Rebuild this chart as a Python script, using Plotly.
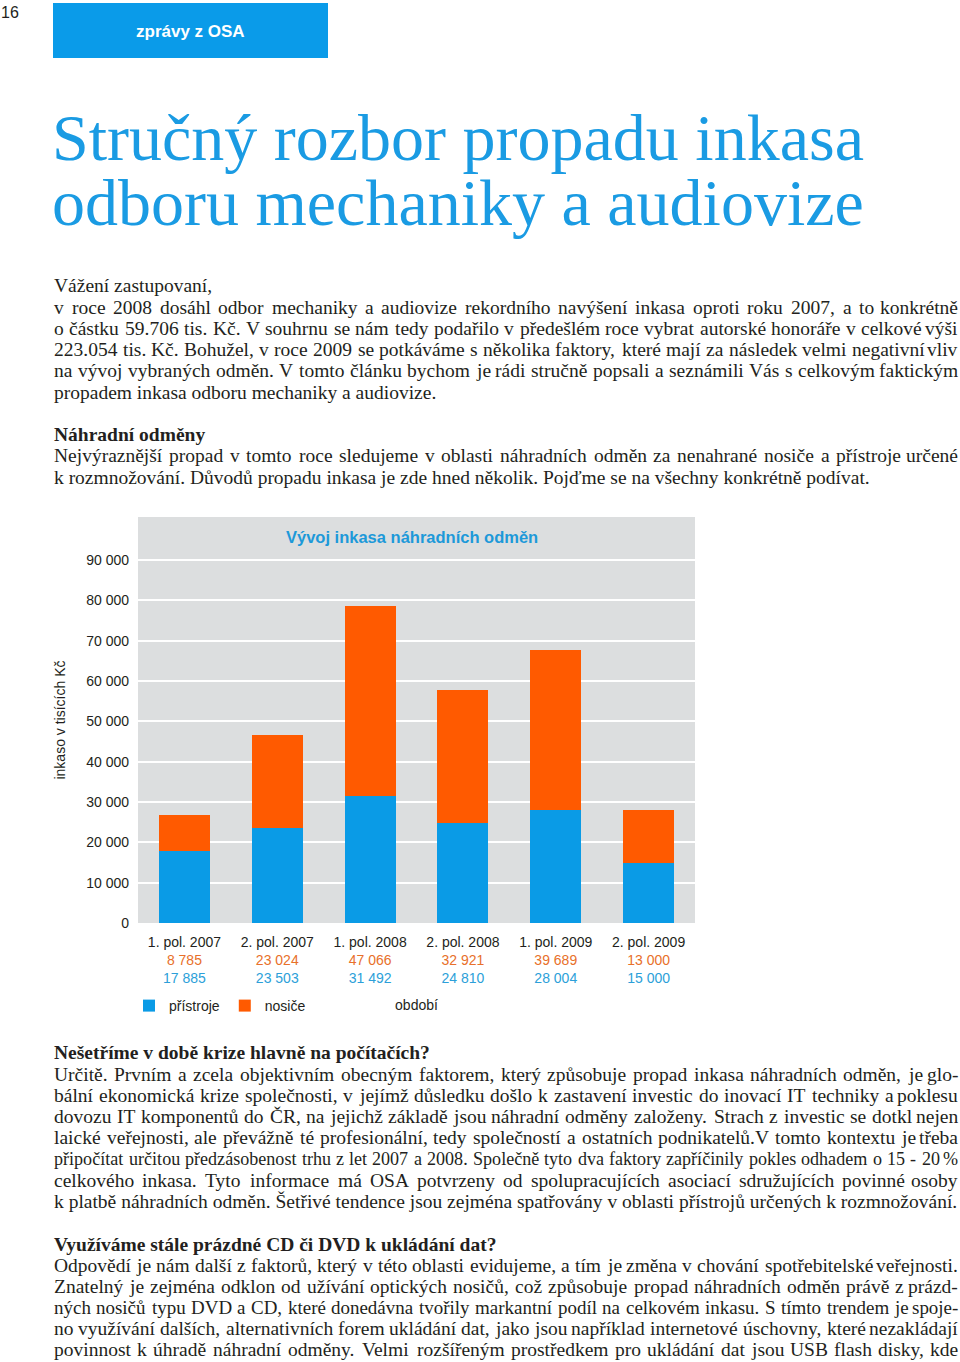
import unicodedata
import plotly.graph_objects as go

W, H = 960, 1362

# ---------------- data ----------------
categories = ["1. pol. 2007", "2. pol. 2007", "1. pol. 2008",
              "2. pol. 2008", "1. pol. 2009", "2. pol. 2009"]
pristroje = [17885, 23503, 31492, 24810, 28004, 15000]
nosice = [8785, 23024, 47066, 32921, 39689, 13000]
y_tick_values = [0, 10000, 20000, 30000, 40000, 50000, 60000, 70000, 80000, 90000]

chart_title = "Vývoj inkasa náhradních odměn"
y_title = "inkaso v tisících Kč"
x_title = "období"
series_names = ["přístroje", "nosiče"]

header_label = "zprávy z OSA"
page_number = "16"
headline = ["Stručný rozbor propadu inkasa", "odboru mechaniky a audiovize"]

intro_lines = [
    "Vážení zastupovaní,",
    "v roce 2008 dosáhl odbor mechaniky a audiovize rekordního navýšení inkasa oproti roku 2007, a to konkrétně",
    "o částku 59.706 tis. Kč. V souhrnu se nám tedy podařilo v předešlém roce vybrat autorské honoráře v celkové výši",
    "223.054 tis. Kč. Bohužel, v roce 2009 se potkáváme s několika faktory, které mají za následek velmi negativní vliv",
    "na vývoj vybraných odměn. V tomto článku bychom je rádi stručně popsali a seznámili Vás s celkovým faktickým",
    "propadem inkasa odboru mechaniky a audiovize.",
]
intro_justified = [False, True, True, True, True, False]
sec1_head = "Náhradní odměny"
sec1_lines = [
    "Nejvýraznější propad v tomto roce sledujeme v oblasti náhradních odměn za nenahrané nosiče a přístroje určené",
    "k rozmnožování. Důvodů propadu inkasa je zde hned několik. Pojďme se na všechny konkrétně podívat.",
]
sec1_justified = [True, False]
sec2_head = "Nešetříme v době krize hlavně na počítačích?"
sec2_lines = [
    "Určitě. Prvním a zcela objektivním obecným faktorem, který způsobuje propad inkasa náhradních odměn, je glo-",
    "bální ekonomická krize společnosti, v jejímž důsledku došlo k zastavení investic do inovací IT techniky a poklesu",
    "dovozu IT komponentů do ČR, na jejichž základě jsou náhradní odměny založeny. Strach z investic se dotkl nejen",
    "laické veřejnosti, ale převážně té profesionální, tedy společností a ostatních podnikatelů.V tomto kontextu je třeba",
    "připočítat určitou předzásobenost trhu z let 2007 a 2008. Společně tyto dva faktory zapříčinily pokles odhadem o 15 - 20 %",
    "celkového inkasa. Tyto informace má OSA potvrzeny od spolupracujících asociací sdružujících povinné osoby",
    "k platbě náhradních odměn. Šetřivé tendence jsou zejména spatřovány v oblasti přístrojů určených k rozmnožování.",
]
sec2_justified = [True, True, True, True, True, True, False]
sec3_head = "Využíváme stále prázdné CD či DVD k ukládání dat?"
sec3_lines = [
    "Odpovědí je nám další z faktorů, který v této oblasti evidujeme, a tím je změna v chování spotřebitelské veřejnosti.",
    "Znatelný je zejména odklon od užívání optických nosičů, což způsobuje propad náhradních odměn právě z prázd-",
    "ných nosičů typu DVD a CD, které donedávna tvořily markantní podíl na celkovém inkasu. S tímto trendem je spoje-",
    "no využívání dalších, alternativních forem ukládání dat, jako jsou například internetové úschovny, které nezakládají",
    "povinnost k úhradě náhradní odměny. Velmi rozšířeným prostředkem pro ukládání dat jsou USB flash disky, kde",
]
sec3_justified = [True, True, True, True, True]

# ---------------- helpers ----------------
BLUE = "#0a9be6"
ORANGE = "#ff5a00"
SERIF = "Liberation Serif"
SANS = "Liberation Sans"
TEXT_DY = 0


def px(x):
    return x / W


def py(y):
    return 1 - y / H


def fmt(v):
    return f"{v:,}".replace(",", " ")


# approximate advance widths (1/1000 em) of Liberation Serif, used to justify lines
_TW = dict(zip("abcdefghijklmnopqrstuvwxyz",
               [444, 500, 444, 500, 444, 333, 500, 500, 278, 278, 500, 278, 778,
                500, 500, 500, 500, 333, 389, 278, 500, 500, 722, 500, 500, 444]))
_TW.update(dict(zip("ABCDEFGHIJKLMNOPQRSTUVWXYZ",
                    [722, 667, 667, 722, 611, 556, 722, 722, 333, 389, 722, 611, 889,
                     722, 722, 556, 722, 667, 556, 611, 722, 722, 944, 722, 722, 611])))
_TW.update({d: 500 for d in "0123456789"})
_TW.update({".": 250, ",": 250, "-": 333, "%": 833, "?": 444, ":": 278, ";": 278,
            "ď": 588, "ť": 326, " ": 250})


def cw(ch):
    if ch in _TW:
        return _TW[ch]
    base = unicodedata.normalize("NFD", ch)[0]
    return _TW.get(base, 500)


def units(word):
    return sum(cw(c) for c in word)


tick_text = [
    f"{c}<br><span style='color:#e8702a'>{fmt(n)}</span><br><span style='color:#2c9fd9'>{fmt(p)}</span>"
    for c, n, p in zip(categories, nosice, pristroje)
]

fig = go.Figure()
fig.add_trace(go.Bar(x=categories, y=pristroje, name=series_names[0],
                     marker=dict(color=BLUE, line=dict(width=0))))
fig.add_trace(go.Bar(x=categories, y=nosice, name=series_names[1],
                     marker=dict(color=ORANGE, line=dict(width=0))))

annotations = []


def text(x, y, s, size, font=SERIF, color="#231f20", bold=False, xanchor="left"):
    yc = y + TEXT_DY
    # keep every text box inside the page
    yc = min(yc, H - 0.58 * size)
    annotations.append(dict(
        x=px(x), y=py(yc), xref="paper", yref="paper", text=s, showarrow=False,
        xanchor=xanchor, yanchor="middle", borderpad=0,
        font=dict(family=font, size=size, color=color, weight="bold" if bold else "normal"),
    ))


L_EDGE, R_EDGE = 53, 959


def body_line(y, s, size, justify):
    if not justify:
        text(L_EDGE, y, s, size)
        return
    words = s.split(" ")
    n = len(words)
    total_units = sum(units(w) for w in words) + 250 * (n - 1)
    avail = R_EDGE - L_EDGE
    if total_units * size / 1000 > avail:
        size = avail / total_units * 1000 * 0.985
    nat = sum(units(w) for w in words) * size / 1000
    gap = (avail - nat) / (n - 1)
    x = L_EDGE
    for i, w in enumerate(words):
        if i == n - 1:
            text(R_EDGE, y, w, size, xanchor="right")
        else:
            text(x, y, w, size)
        x += units(w) * size / 1000 + gap


# page furniture
text(0, 13, page_number, 16, font=SANS, color="#231f20")
text(190, 32, header_label, 17, font=SANS, color="white", bold=True, xanchor="center")
text(51, 137, headline[0], 66, color="#1a9be3")
text(51, 203, headline[1], 66, color="#1a9be3")

LS = 21.2
BODY = 19.5
for i, (l, j) in enumerate(zip(intro_lines, intro_justified)):
    body_line(286 + i * LS, l, BODY, j)
text(L_EDGE, 435, sec1_head, BODY, bold=True)
for i, (l, j) in enumerate(zip(sec1_lines, sec1_justified)):
    body_line(456 + i * LS, l, BODY, j)
text(L_EDGE, 1052, sec2_head, BODY, bold=True)
for i, (l, j) in enumerate(zip(sec2_lines, sec2_justified)):
    body_line(1074 + i * LS, l, BODY, j)
text(L_EDGE, 1244, sec3_head, BODY, bold=True)
for i, (l, j) in enumerate(zip(sec3_lines, sec3_justified)):
    body_line(1265 + i * LS, l, BODY, j)

# chart title
text(412, 537, chart_title, 16.5, font=SANS, color="#1d99d9", bold=True, xanchor="center")

fig.update_layout(
    width=W, height=H,
    margin=dict(l=0, r=0, t=0, b=0, autoexpand=False),
    paper_bgcolor="white",
    plot_bgcolor="#dcdedf",
    barmode="stack",
    bargap=0.45,
    separators=", ",
    font=dict(family=SANS, size=14, color="#231f20"),
    showlegend=True,
    legend=dict(orientation="h", x=px(129), y=py(1006), xanchor="left", yanchor="middle",
                font=dict(family=SANS, size=14, color="#231f20"), traceorder="normal",
                bgcolor="rgba(0,0,0,0)"),
    annotations=annotations,
    shapes=[dict(type="rect", xref="paper", yref="paper",
                 x0=px(53), x1=px(328), y0=py(58), y1=py(3),
                 fillcolor="#0a9be9", line=dict(width=0), layer="below")],
    xaxis=dict(domain=[px(138), px(695)], showgrid=False, zeroline=False, showline=False,
               ticks="", tickmode="array", tickvals=categories, ticktext=tick_text,
               ticklabelstandoff=9, automargin=False,
               tickfont=dict(family=SANS, size=14, color="#231f20"),
               title=dict(text=x_title, standoff=14, font=dict(family=SANS, size=14))),
    yaxis=dict(domain=[py(923), py(517)], range=[0, 100700], tickmode="array",
               tickvals=y_tick_values, tickformat=",d", showgrid=True, gridcolor="white",
               gridwidth=2, zeroline=False, showline=False, ticks="",
               ticklabelstandoff=8, automargin=False,
               tickfont=dict(family=SANS, size=14, color="#231f20"),
               title=dict(text=y_title, standoff=17, font=dict(family=SANS, size=14))),
)

fig.write_html("out.html", config={"displayModeBar": False},
               post_script="document.body.style.margin='0px';")
